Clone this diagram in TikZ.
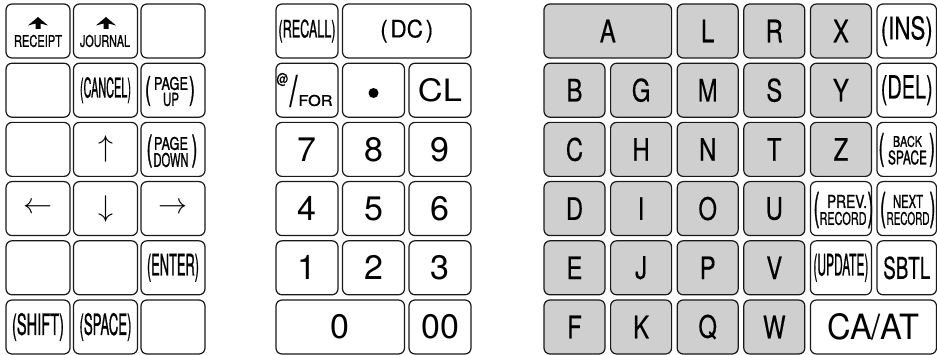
\documentclass[tikz,border=0pt]{standalone}
\usepackage{fontspec}
\setmainfont{TeX Gyre Heros}
\newfontfamily\cnd[FakeBold=1.3]{TeX Gyre Heros}
\newfontfamily\ltf[FakeBold=0.4]{TeX Gyre Heros}
\usepackage{graphicx}
\usetikzlibrary{arrows.meta}
\definecolor{keygray}{HTML}{CFCFCF}
\newcommand\rb[3]{\resizebox{#1pt}{#2pt}{\cnd #3}}
\newcommand\rbt[3]{\resizebox*{#1pt}{#2pt}{\cnd #3}}
\newcommand\rbn[3]{\resizebox{#1pt}{#2pt}{#3}}
\newcommand\rbtn[3]{\resizebox*{#1pt}{#2pt}{\ltf #3}}
\newcommand\dgt[1]{{\fontsize{34}{34}\selectfont #1}}
\newcommand\ltr[1]{\scalebox{0.77}[1]{\ltf\fontsize{31}{31}\selectfont #1}}
\newcommand\bigarrow[2]{\fill (#1,17) -- (#1+10,25.5) -- (#1+2.5,23.5) -- (#1+2.5,29) -- (#1-2.5,29) -- (#1-2.5,23.5) -- (#1-10,25.5) -- cycle;}
\begin{document}
\begin{tikzpicture}[x=1pt,y=-1pt,
  keyw/.style={draw=black!90, line width=1.2pt, rounded corners=6pt, fill=white, minimum height=54pt, inner sep=0pt},
  keyg/.style={keyw, fill=keygray},
  kl/.style={keyw, minimum width=64pt},
  km/.style={keyw, minimum width=62pt},
  kr/.style={keyg, minimum width=61pt},
  krw/.style={keyw, minimum width=61pt},
  lbl/.style={inner sep=0pt}]
\useasboundingbox (0,0) rectangle (937,355);
% ---------------- left block
\node[kl] (rcpt) at (38,31) {};
\bigarrow{38}{0}
\node[lbl] (rcpt-t) at (38,41) {\rb{48}{12}{RECEIPT}};
\node[kl] (jrnl) at (105.5,31) {};
\bigarrow{106}{0}
\node[lbl] (jrnl-t) at (105,41) {\rb{50}{12}{JOURNAL}};
\node[kl] (l13) at (173,31) {};
\node[kl] (l21) at (38,90.2) {};
\node[kl] (cancel) at (105.5,90.2) {\rbt{51}{26}{(CANCEL)}};
\node[kl] (pgup) at (173,90.2) {};
\node[lbl] (pgup-l) at (148,91) {\rbt{6}{30}{(}};
\node[lbl] (pgup-r) at (192,91) {\rbt{6}{30}{)}};
\node[lbl] (pgup-a) at (171,83.5) {\rb{34}{13}{PAGE}};
\node[lbl] (pgup-b) at (171,99.5) {\rb{16}{13}{UP}};
\node[kl] (l31) at (38,149.4) {};
\node[kl] (up) at (105.5,149.4) {\scalebox{3}{$\uparrow$}};
\node[kl] (pgdn) at (173,149.4) {};
\node[lbl] (pgdn-l) at (149.5,151) {\rbt{6}{33}{(}};
\node[lbl] (pgdn-r) at (194.5,151) {\rbt{6}{33}{)}};
\node[lbl] (pgdn-a) at (171,143.5) {\rb{34}{13}{PAGE}};
\node[lbl] (pgdn-b) at (171,160) {\rb{35}{14}{DOWN}};
\node[kl] (left) at (38,208.6) {\scalebox{2.9}{$\leftarrow$}};
\node[kl] (down) at (105.5,208.6) {\scalebox{3}{$\downarrow$}};
\node[kl] (right) at (173,208.6) {\scalebox{2.9}{$\rightarrow$}};
\node[kl] (l51) at (38,267.8) {};
\node[kl] (l52) at (105.5,267.8) {};
\node[kl] (enter) at (173,267.8) {\rbt{52}{28}{(ENTER)}};
\node[kl] (shift) at (38,327) {\rbt{52}{28}{(SHIFT)}};
\node[kl] (space) at (105.5,327) {\rbt{52}{28}{(SPACE)}};
\node[kl] (l63) at (173,327) {};
% ---------------- middle block
\node[km] (recall) at (307,31) {\rbt{57}{23}{(RECALL)}};
\node[keyw, minimum width=128.5pt] (dc) at (406.75,31) {\rbtn{53}{23}{(\hspace{0.12em}DC\hspace{0.12em})}};
\node[km] (for) at (307,90.2) {};
\node[lbl] (for-at) at (282.5,79.5) {\rbtn{12}{13}{@}};
\node[lbl] (for-sl) at (293.5,91) {\rbtn{8}{32}{/}};
\node[lbl] (for-t) at (315.5,100.5) {\rb{34}{11}{FOR}};
\node[km] (dot) at (373.5,90.2) {};
\node[circle, fill=black, inner sep=0pt, minimum size=10pt] (dot-b) at (373.5,93) {};
\node[km] (cl) at (440,90.2) {\rbn{44}{23}{CL}};
\node[km] (k7) at (307,149.4) {\dgt{7}};
\node[km] (k8) at (373.5,149.4) {\dgt{8}};
\node[km] (k9) at (440,149.4) {\dgt{9}};
\node[km] (k4) at (307,208.6) {\dgt{4}};
\node[km] (k5) at (373.5,208.6) {\dgt{5}};
\node[km] (k6) at (440,208.6) {\dgt{6}};
\node[km] (k1) at (307,267.8) {\dgt{1}};
\node[km] (k2) at (373.5,267.8) {\dgt{2}};
\node[km] (k3) at (440,267.8) {\dgt{3}};
\node[keyw, minimum width=128.5pt] (k0) at (340.25,327) {\dgt{0}};
\node[km] (k00) at (440,327) {\dgt{00}};
% ---------------- right block
\node[keyg, minimum width=127.6pt] (kA) at (607.8,31) {\ltr{A}};
\node[kr] (kL) at (707.7,31) {\ltr{L}};
\node[kr] (kR) at (774.3,31) {\ltr{R}};
\node[kr] (kX) at (840.9,31) {\ltr{X}};
\node[keyw, minimum width=59.5pt] (ins) at (906.75,31) {\rbtn{52}{30}{(INS)}};
\node[kr] (kB) at (574.5,90.2) {\ltr{B}};
\node[kr] (kG) at (641.1,90.2) {\ltr{G}};
\node[kr] (kM) at (707.7,90.2) {\ltr{M}};
\node[kr] (kS) at (774.3,90.2) {\ltr{S}};
\node[kr] (kY) at (840.9,90.2) {\ltr{Y}};
\node[keyw, minimum width=59.5pt] (del) at (906.75,90.2) {\rbtn{52}{30}{(DEL)}};
\node[kr] (kC) at (574.5,149.4) {\ltr{C}};
\node[kr] (kH) at (641.1,149.4) {\ltr{H}};
\node[kr] (kN) at (707.7,149.4) {\ltr{N}};
\node[kr] (kT) at (774.3,149.4) {\ltr{T}};
\node[kr] (kZ) at (840.9,149.4) {\ltr{Z}};
\node[keyw, minimum width=59.5pt] (bksp) at (906.75,149.4) {};
\node[lbl] (bksp-l) at (881.5,150) {\rbt{6}{34}{(}};
\node[lbl] (bksp-r) at (932,150) {\rbt{6}{34}{)}};
\node[lbl] (bksp-a) at (907.5,141.5) {\rb{29}{11}{BACK}};
\node[lbl] (bksp-b) at (907.5,157.5) {\rb{39}{14}{SPACE}};
\node[kr] (kD) at (574.5,208.6) {\ltr{D}};
\node[kr] (kI) at (641.1,208.6) {\ltr{I}};
\node[kr] (kO) at (707.7,208.6) {\ltr{O}};
\node[kr] (kU) at (774.3,208.6) {\ltr{U}};
\node[krw] (prev) at (840.9,208.6) {};
\node[lbl] (prev-l) at (816.5,210) {\rbt{6}{36}{(}};
\node[lbl] (prev-r) at (870.5,210) {\rbt{6}{36}{)}};
\node[lbl] (prev-a) at (847,201.5) {\rb{40}{13}{PREV.}};
\node[lbl] (prev-b) at (843,218.5) {\rb{47}{13}{RECORD}};
\node[keyw, minimum width=59.5pt] (next) at (906.75,208.6) {};
\node[lbl] (next-l) at (883,210) {\rbt{6}{36}{(}};
\node[lbl] (next-r) at (932.5,210) {\rbt{6}{36}{)}};
\node[lbl] (next-a) at (908,201.5) {\rb{30}{13}{NEXT}};
\node[lbl] (next-b) at (908,218.5) {\rb{43}{13}{RECORD}};
\node[kr] (kE) at (574.5,267.8) {\ltr{E}};
\node[kr] (kJ) at (641.1,267.8) {\ltr{J}};
\node[kr] (kP) at (707.7,267.8) {\ltr{P}};
\node[kr] (kV) at (774.3,267.8) {\ltr{V}};
\node[krw] (update) at (840.9,267.8) {\rbt{55}{28}{(UPDATE)}};
\node[keyw, minimum width=59.5pt] (sbtl) at (906.75,267.8) {\rbtn{47}{23}{SBTL}};
\node[kr] (kF) at (574.5,327) {\ltr{F}};
\node[kr] (kK) at (641.1,327) {\ltr{K}};
\node[kr] (kQ) at (707.7,327) {\ltr{Q}};
\node[kr] (kW) at (774.3,327) {\ltr{W}};
\node[keyw, minimum width=126.1pt] (caat) at (873.45,327) {\rbn{92}{26}{CA/AT}};
\end{tikzpicture}
\end{document}
